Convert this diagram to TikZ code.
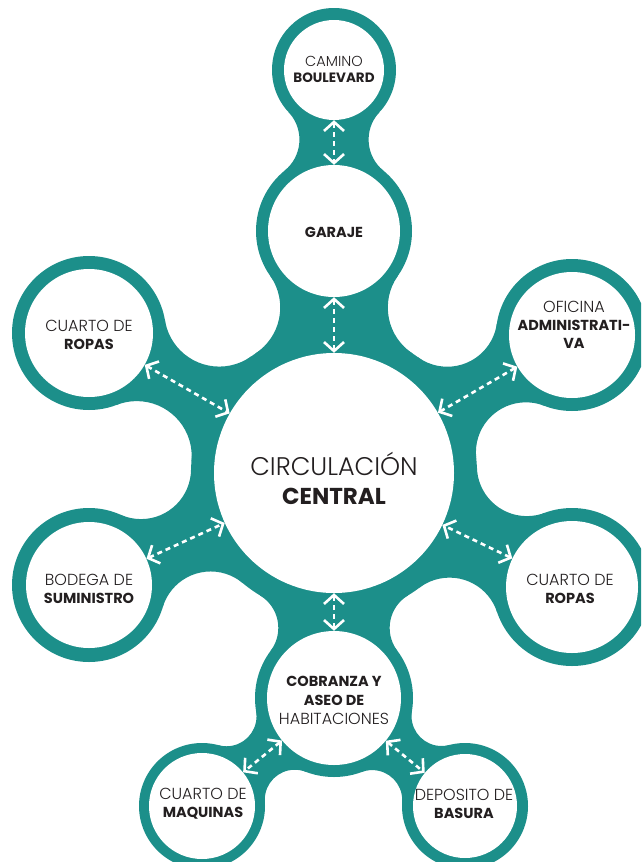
\documentclass[tikz,border=0pt]{standalone}
\usepackage{fontspec}
\setmainfont{Poppins}[UprightFont=* Light,BoldFont=* Bold]
\usetikzlibrary{intersections,arrows.meta}
\definecolor{tealc}{RGB}{28,143,138}
\definecolor{txtc}{RGB}{35,31,32}
\newcommand\mkneck[5]{%
  \path[name path=na] (#1) circle[radius=#2+#5];
  \path[name path=nb] (#3) circle[radius=#4+#5];
  \path[name intersections={of=na and nb, name=ni}];
  \begin{scope}
    \clip (#1) -- (ni-1) -- (#3) -- (ni-2) -- cycle;
    \fill[tealc,even odd rule] (-200,200) rectangle (900,-1100)
      (ni-1) circle[radius=#5] (ni-2) circle[radius=#5];
  \end{scope}}
\newcommand\bb[1]{{\fontsize{14.5}{18}\selectfont\textbf{#1}}}
\tikzset{
  wcirc/.style={circle,fill=white,inner sep=0pt,draw=none},
  lbl/.style={align=center,text=txtc,inner sep=0pt,font=\fontsize{16}{18}\selectfont},
  arr/.style={white,line width=2.6pt,dash pattern=on 5pt off 4pt,
    {Straight Barb[length=9pt,width=20pt]}-{Straight Barb[length=9pt,width=20pt]}}
}
\begin{document}
\begin{tikzpicture}[x=1pt,y=1pt]
\clip (0,0) rectangle (641,-862);
\coordinate (pcam) at (334,-70);
\coordinate (pgar) at (334,-231);
\coordinate (pcen) at (334,-473);
\coordinate (propl) at (89,-333);
\coordinate (pofi) at (572,-335);
\coordinate (pbod) at (89,-585);
\coordinate (propr) at (572,-587);
\coordinate (pcob) at (334,-698);
\coordinate (pmaq) at (202,-806);
\coordinate (pdep) at (465,-806);
% necks
\mkneck{pgar}{78}{pcam}{62}{40}
\mkneck{pcen}{143}{pgar}{78}{55}
\mkneck{pcen}{143}{propl}{77}{55}
\mkneck{pcen}{143}{pofi}{76}{50}
\mkneck{pcen}{143}{pbod}{77}{50}
\mkneck{pcen}{143}{propr}{79}{50}
\mkneck{pcen}{143}{pcob}{79}{38}
\mkneck{pcob}{79}{pmaq}{63}{30}
\mkneck{pcob}{79}{pdep}{63}{30}
% teal rings
\fill[tealc] (pcam) circle[radius=62];
\fill[tealc] (pgar) circle[radius=78];
\fill[tealc] (pcen) circle[radius=143];
\fill[tealc] (propl) circle[radius=77];
\fill[tealc] (pofi) circle[radius=76];
\fill[tealc] (pbod) circle[radius=77];
\fill[tealc] (propr) circle[radius=79];
\fill[tealc] (pcob) circle[radius=79];
\fill[tealc] (pmaq) circle[radius=63];
\fill[tealc] (pdep) circle[radius=63];
% white circles
\node[wcirc,minimum size=100pt] (cam) at (pcam) {};
\node[wcirc,minimum size=132pt] (gar) at (pgar) {};
\node[wcirc,minimum size=240pt] (cen) at (pcen) {};
\node[wcirc,minimum size=128pt] (ropl) at (propl) {};
\node[wcirc,minimum size=126pt] (ofi) at (pofi) {};
\node[wcirc,minimum size=126pt] (bod) at (pbod) {};
\node[wcirc,minimum size=132pt] (ropr) at (propr) {};
\node[wcirc,minimum size=134pt] (cob) at (pcob) {};
\node[wcirc,minimum size=106pt] (maq) at (pmaq) {};
\node[wcirc,minimum size=104pt] (dep) at (pdep) {};
% labels
\node[lbl,font=\fontsize{14.5}{16}\selectfont] (tcam) at (334,-69) {CAMINO\\{\fontsize{13.5}{16}\selectfont\textbf{BOULEVARD}}};
\node[lbl] (tgar) at (334,-232) {\bb{GARAJE}};
\node[lbl,font=\fontsize{25.5}{29}\selectfont] (tcen) at (334,-478) {CIRCULACIÓN\\{\fontsize{23}{29}\selectfont\textbf{CENTRAL}}};
\node[lbl] (tropl) at (89,-335) {CUARTO DE\\\bb{ROPAS}};
\node[lbl] (tofi) at (574,-325) {OFICINA\\\bb{ADMINISTRATI-}\\\bb{VA}};
\node[lbl] (tbod) at (89,-589) {BODEGA DE\\\bb{SUMINISTRO}};
\node[lbl] (tropr) at (570,-589) {CUARTO DE\\\bb{ROPAS}};
\node[lbl,font=\fontsize{16}{19}\selectfont] (tcob) at (334,-700) {\bb{COBRANZA Y}\\\bb{ASEO DE}\\HABITACIONES};
\node[lbl] (tmaq) at (203,-804) {CUARTO DE\\\bb{MAQUINAS}};
\node[lbl] (tdep) at (464,-804) {DEPOSITO DE\\\bb{BASURA}};
% arrows
\draw[arr] (cam) -- (gar);
\draw[arr] (gar) -- (cen);
\draw[arr] (ropl) -- (cen);
\draw[arr] (ofi) -- (cen);
\draw[arr] (bod) -- (cen);
\draw[arr] (ropr) -- (cen);
\draw[arr] (cen) -- (cob);
\draw[arr] (cob) -- (maq);
\draw[arr] (cob) -- (dep);
\end{tikzpicture}
\end{document}
